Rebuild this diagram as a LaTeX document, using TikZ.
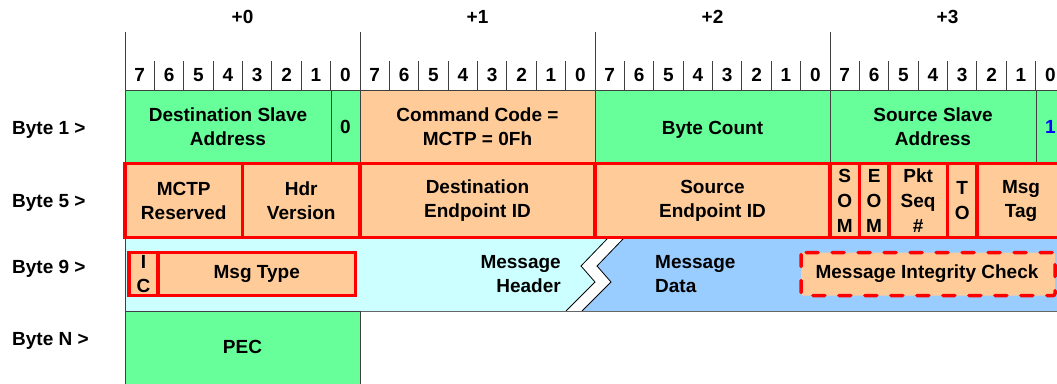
\documentclass[tikz,border=0pt]{standalone}
\usepackage{fontspec}
\setmainfont{Liberation Sans}
\usepackage{tikz}

\definecolor{fldgreen}{HTML}{66FF99}
\definecolor{fldorange}{HTML}{FFCC99}
\definecolor{hdrcyan}{HTML}{CCFFFF}
\definecolor{datablue}{HTML}{99CCFF}

\tikzset{
	cell/.style={draw=black!75, line width=0.8pt},
	hdrfield/.style={draw=red, line width=3.5pt, fill=fldorange},
	micfield/.style={draw=red, line width=3.5pt, fill=fldorange, dash pattern=on 12pt off 14pt, line cap=round, rounded corners=2pt},
}

\begin{document}
\begin{tikzpicture}[x=1pt, y=-1pt, every node/.style={font=\bfseries\fontsize{19}{24}\selectfont, align=center, inner sep=0pt}]
		\useasboundingbox (0,0) rectangle (1057,383);
		\clip (0,0) rectangle (1057,383);

		% Byte offsets and bit numbers
		\foreach \k in {0,...,3} {
			\node (off\k) at (242.5+235*\k, 17) {+\k};
			\draw[black!75, line width=0.8pt] (125+235*\k, 32) -- (125+235*\k, 90);
			\foreach \j in {0,...,7} {
				\pgfmathtruncatemacro\bitnum{7-\j}
				\node (bit\k\j) at (139.7+235*\k+29.375*\j, 75) {\bitnum};
			}
			\foreach \j in {1,...,7}
				\draw[black!75, line width=0.8pt] (125+235*\k+29.375*\j, 61) -- (125+235*\k+29.375*\j, 90);
		}

		% Row labels
		\node[anchor=west] (byte1) at (12,129.5) {Byte 1 >};
		\node[anchor=west] (byte5) at (12,202.5) {Byte 5 >};
		\node[anchor=west] (byte9) at (12,268.5) {Byte 9 >};
		\node[anchor=west] (byteN) at (12,341) {Byte N >};

		% Byte 1: SMBus header
		\draw[cell, fill=fldgreen] (125,90) rectangle (331,162);
		\draw[cell, fill=fldgreen] (331,90) rectangle (360,162);
		\draw[cell, fill=fldorange] (360,90) rectangle (595,162);
		\draw[cell, fill=fldgreen] (595,90) rectangle (830,162);
		\draw[cell, fill=fldgreen] (830,90) rectangle (1036,162);
		\draw[cell, fill=fldgreen] (1036,90) rectangle (1070,162);
		\node (dstslave) at (228,127) {Destination Slave\\Address};
		\node (dstbit) at (345.5,127) {0};
		\node (cmdcode) at (477.5,127) {Command Code =\\MCTP = 0Fh};
		\node (bytecount) at (712.5,129.5) {Byte Count};
		\node (srcslave) at (933,127) {Source Slave\\Address};
		\node[text=blue] (srcbit) at (1050.5,127) {1};

		% Byte 5: MCTP transport header
		\draw[hdrfield] (125,163.5) rectangle (242.5,237.5);
		\draw[hdrfield] (242.5,163.5) rectangle (360,237.5);
		\draw[hdrfield] (360,163.5) rectangle (595,237.5);
		\draw[hdrfield] (595,163.5) rectangle (830,237.5);
		\draw[hdrfield] (830,163.5) rectangle (859.4,237.5);
		\draw[hdrfield] (859.4,163.5) rectangle (888.75,237.5);
		\draw[hdrfield] (888.75,163.5) rectangle (947.5,237.5);
		\draw[hdrfield] (947.5,163.5) rectangle (976.9,237.5);
		\draw[hdrfield] (976.9,163.5) rectangle (1070,237.5);
		\node (rsvd) at (183.75,200.5) {MCTP\\Reserved};
		\node (hdrver) at (301.25,200.5) {Hdr\\Version};
		\node (dsteid) at (477.5,200.5) {Destination\\Endpoint ID};
		\node (srceid) at (712.5,200.5) {Source\\Endpoint ID};
		\node[font=\bfseries\fontsize{19}{25}\selectfont] (som) at (844.7,201) {S\\O\\M};
		\node[font=\bfseries\fontsize{19}{25}\selectfont] (eom) at (874.1,201) {E\\O\\M};
		\node[font=\bfseries\fontsize{19}{25}\selectfont] (pktseq) at (918.1,201) {Pkt\\Seq\\\#};
		\node[font=\bfseries\fontsize{19}{25}\selectfont] (tagown) at (962.2,201) {T\\O};
		\node (msgtag) at (1021,200.5) {Msg\\Tag};

		% Byte 9: message header and message data
		\fill[hdrcyan] (125,239) -- (607,239) -- (581,266) -- (595,282) -- (566,311) -- (125,311) -- cycle;
		\fill[datablue] (623,239) -- (1070,239) -- (1070,311) -- (582,311) -- (611,282) -- (597,266) -- cycle;
		\draw[black, line width=0.8pt] (607,239) -- (581,266) -- (595,282) -- (566,311);
		\draw[black, line width=0.8pt] (623,239) -- (597,266) -- (611,282) -- (582,311);
		\draw[black!60, line width=0.8pt] (125,311) -- (1070,311);
		\node[anchor=east, align=right] (msghdr) at (561,274.5) {Message\\Header};
		\node[anchor=west, align=left] (msgdata) at (655,274.5) {Message\\Data};

		\draw[hdrfield] (129,252.5) rectangle (355.5,295.5);
		\draw[red, line width=3.5pt] (158,252.5) -- (158,295.5);
		\node (icbit) at (143.5,274.5) {I\\C};
		\node (msgtype) at (256.75,273.5) {Msg Type};

		\draw[micfield] (801,252.5) rectangle (1055,295.5);
		\node (mic) at (927,273.5) {Message Integrity Check};

		% Byte N: PEC
		\draw[cell, fill=fldgreen] (125,311) rectangle (360,390);
		\node (pec) at (242.5,347) {PEC};

		% Left edge
		\draw[black!75, line width=0.8pt] (125,32) -- (125,390);
\end{tikzpicture}
\end{document}
